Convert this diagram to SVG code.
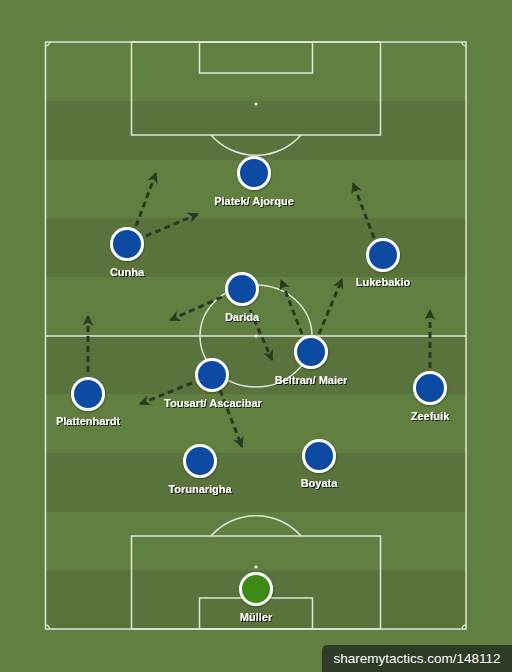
<svg xmlns="http://www.w3.org/2000/svg" width="512" height="672" viewBox="0 0 512 672">
<style>
.ln{fill:none;stroke:#dfe6d6;stroke-width:1.5}
.band{fill:#5a733d}
.arr{fill:none;stroke:#2b3921;stroke-width:3;stroke-dasharray:6 4;marker-end:url(#ah)}
.pl{fill:#0c4ca3;stroke:#fff;stroke-width:3;filter:url(#sh)}
.gk{fill:#3c8a19;stroke:#fff;stroke-width:3;filter:url(#sh)}
.lb{font-family:"Liberation Sans",Arial,sans-serif;font-size:11px;font-weight:bold;fill:#fff;text-anchor:middle;filter:url(#tsh)}
</style>
<defs>
<marker id="ah" viewBox="0 0 10 10" refX="9" refY="5" markerWidth="11" markerHeight="11" markerUnits="userSpaceOnUse" orient="auto">
<path d="M0,0 L10,5 L0,10 L3,5 z" fill="#2b3921"/>
</marker>
<filter id="sh" x="-30%" y="-30%" width="160%" height="160%">
<feDropShadow dx="0.5" dy="1" stdDeviation="1" flood-color="#000" flood-opacity="0.35"/>
</filter>
<filter id="tsh" x="-10%" y="-30%" width="120%" height="160%">
<feDropShadow dx="1" dy="1" stdDeviation="0.4" flood-color="#000" flood-opacity="0.8"/>
</filter>
</defs>
<rect x="0" y="0" width="512" height="672" fill="#627f42"/>
<g id="stripes">
<rect class="band" x="45" y="101" width="421" height="59"/>
<rect class="band" x="45" y="218" width="421" height="59"/>
<rect class="band" x="45" y="336" width="421" height="58"/>
<rect class="band" x="45" y="453" width="421" height="59"/>
<rect class="band" x="45" y="570" width="421" height="59"/>
</g>
<g id="pitch">
<rect class="ln" x="45.5" y="42" width="420.5" height="587"/>
<line class="ln" x1="45.5" y1="336" x2="466" y2="336"/>
<ellipse class="ln" cx="256" cy="336" rx="56" ry="51"/>
<circle cx="256" cy="336" r="1.5" fill="#fff"/>
<rect class="ln" x="131.5" y="42" width="249" height="93"/>
<rect class="ln" x="199.5" y="42" width="113" height="31"/>
<circle cx="256" cy="104" r="1.5" fill="#fff"/>
<path class="ln" d="M211,135 A60,60 0 0 0 301,135"/>
<rect class="ln" x="131.5" y="536" width="249" height="93"/>
<rect class="ln" x="199.5" y="598" width="113" height="31"/>
<circle cx="256" cy="567" r="1.5" fill="#fff"/>
<path class="ln" d="M211,536 A60,60 0 0 1 301,536"/>
<path class="ln" d="M45.5,46 A4,4 0 0 0 49.5,42"/>
<path class="ln" d="M462,42 A4,4 0 0 0 466,46"/>
<path class="ln" d="M45.5,625 A4,4 0 0 1 49.5,629"/>
<path class="ln" d="M462,629 A4,4 0 0 1 466,625"/>
</g>
<g id="connectors">
<line class="arr" x1="136" y1="226" x2="156" y2="173"/>
<line class="arr" x1="146" y1="236" x2="198" y2="214"/>
<line class="arr" x1="374" y1="238" x2="353" y2="183"/>
<line class="arr" x1="222" y1="297" x2="170" y2="320"/>
<line class="arr" x1="250" y1="310" x2="272" y2="360"/>
<line class="arr" x1="302" y1="334" x2="281" y2="280"/>
<line class="arr" x1="319" y1="334" x2="342" y2="279"/>
<line class="arr" x1="88" y1="372" x2="88" y2="316"/>
<line class="arr" x1="192" y1="383" x2="140" y2="404"/>
<line class="arr" x1="220" y1="390" x2="242" y2="447"/>
<line class="arr" x1="430" y1="368" x2="430" y2="310"/>
</g>
<g id="piatek"><circle class="pl" cx="254" cy="173" r="15.5"/><text class="lb" x="254" y="205">Piatek/ Ajorque</text></g>
<g id="cunha"><circle class="pl" cx="127" cy="244" r="15.5"/><text class="lb" x="127" y="276">Cunha</text></g>
<g id="lukebakio"><circle class="pl" cx="383" cy="255" r="15.5"/><text class="lb" x="383" y="286">Lukebakio</text></g>
<g id="darida"><circle class="pl" cx="242" cy="289" r="15.5"/><text class="lb" x="242" y="321">Darida</text></g>
<g id="beltran"><circle class="pl" cx="311" cy="352" r="15.5"/><text class="lb" x="311" y="384">Beltran/ Maier</text></g>
<g id="plattenhardt"><circle class="pl" cx="88" cy="394" r="15.5"/><text class="lb" x="88" y="425">Plattenhardt</text></g>
<g id="tousart"><circle class="pl" cx="212" cy="375" r="15.5"/><text class="lb" x="213" y="407">Tousart/ Ascacibar</text></g>
<g id="zeefuik"><circle class="pl" cx="430" cy="388" r="15.5"/><text class="lb" x="430" y="420">Zeefuik</text></g>
<g id="torunarigha"><circle class="pl" cx="200" cy="461" r="15.5"/><text class="lb" x="200" y="493">Torunarigha</text></g>
<g id="boyata"><circle class="pl" cx="319" cy="456" r="15.5"/><text class="lb" x="319" y="487">Boyata</text></g>
<g id="muller"><circle class="gk" cx="256" cy="589" r="15.5"/><text class="lb" x="256" y="621">Müller</text></g>
<g id="watermark">
<path d="M322,672 L322,651 Q322,645 328,645 L512,645 L512,672 z" fill="#2e3b26"/>
<text x="417" y="663" font-family="Liberation Sans,Arial,sans-serif" font-size="13.5" fill="#fff" text-anchor="middle">sharemytactics.com/148112</text>
</g>
</svg>
